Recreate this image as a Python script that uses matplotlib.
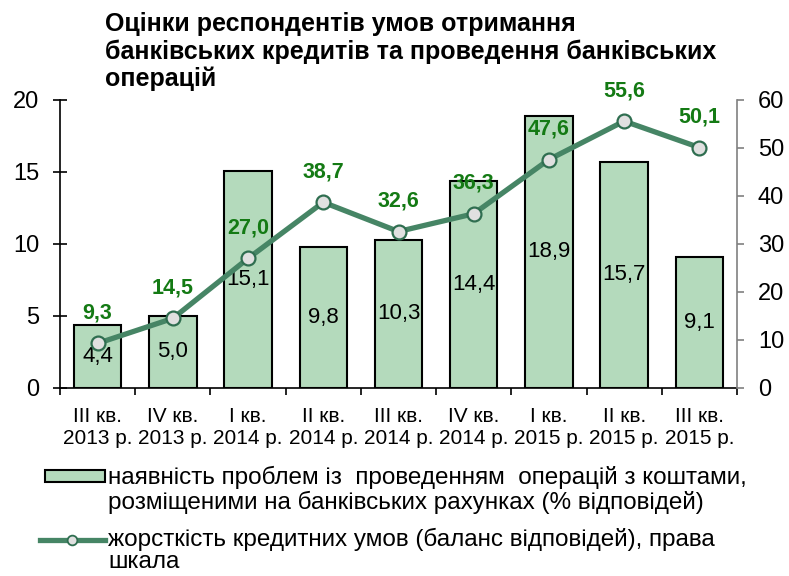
import matplotlib
matplotlib.use("Agg")
import matplotlib.pyplot as plt
from matplotlib import font_manager
from matplotlib.patches import Rectangle
from matplotlib.lines import Line2D
import numpy as np

# pick a narrow font if one is installed
names = {f.name for f in font_manager.fontManager.ttflist}
font = 'Liberation Sans Narrow' if 'Liberation Sans Narrow' in names else 'Liberation Sans'
plt.rcParams['font.family'] = [font, 'DejaVu Sans']

quarters = ['III кв.\n2013 р.', 'IV кв.\n2013 р.', 'I кв.\n2014 р.', 'II кв.\n2014 р.',
            'III кв.\n2014 р.', 'IV кв.\n2014 р.', 'I кв.\n2015 р.', 'II кв.\n2015 р.',
            'III кв.\n2015 р.']
problems = [4.4, 5.0, 15.1, 9.8, 10.3, 14.4, 18.9, 15.7, 9.1]
tightness = [9.3, 14.5, 27.0, 38.7, 32.6, 36.3, 47.6, 55.6, 50.1]

title_lines = ['Оцінки респондентів умов отримання',
               'банківських кредитів та проведення банківських',
               'операцій']
bar_label = ['наявність проблем із  проведенням  операцій з коштами,',
             'розміщеними на банківських рахунках (% відповідей)']
line_label = ['жорсткість кредитних умов (баланс відповідей), права',
              'шкала']

bar_color = '#b4dabc'
line_color = '#468565'
marker_edge = '#2f6e50'
label_green = '#147a14'

W, H = 789, 576
fig = plt.figure(figsize=(W/100, H/100), dpi=100)
ax = fig.add_axes([60/W, 1-388/H, 677/W, 288/H])
ax2 = ax.twinx()

x = np.arange(len(quarters))
ax.bar(x, problems, width=0.63, color=bar_color, edgecolor='black', linewidth=1.5, zorder=2)
for xi, v in zip(x, problems):
    ax.text(xi, v/2, f'{v:.1f}'.replace('.', ','), ha='center', va='center',
            fontsize=16, color='black', zorder=3)

ax2.plot(x, tightness, color=line_color, lw=3.8, marker='o', markersize=10,
         markerfacecolor='#e0e0e0', markeredgecolor=marker_edge, markeredgewidth=1.6, zorder=4)
for xi, v in zip(x, tightness):
    ax2.annotate(f'{v:.1f}'.replace('.', ','), (xi, v), xytext=(0, 22),
                 textcoords='offset points', ha='center', va='center',
                 fontsize=15.5, fontweight='bold', color=label_green)

ax.set_xlim(-0.5, len(quarters) - 0.5)
ax.set_ylim(0, 20)
ax2.set_ylim(0, 60)
ax.set_yticks(range(0, 21, 5))
ax2.set_yticks(range(0, 61, 10))

ax.set_xticks(x)
ax.set_xticklabels(quarters, fontsize=15, linespacing=1.15)
ax.set_xticks(np.arange(-0.5, len(quarters), 1), minor=True)
ax.tick_params(axis='x', which='major', length=0, pad=14)
ax.tick_params(axis='x', which='minor', length=5, width=1.2, direction='out', color='black')
ax.tick_params(axis='y', direction='inout', length=10, width=1.2, labelsize=17, pad=10)
ax2.tick_params(axis='y', direction='out', length=5, width=1.2, color='#808080',
                labelsize=17, pad=10)

ax.spines['top'].set_visible(False)
ax2.spines['top'].set_visible(False)
ax.spines['right'].set_visible(False)
ax.spines['left'].set_linewidth(1.2)
ax.spines['bottom'].set_linewidth(1.2)
ax2.spines['left'].set_visible(False)
ax2.spines['bottom'].set_visible(False)
ax2.spines['right'].set_color('#808080')
ax2.spines['right'].set_linewidth(1.2)

# title, one line at a time
for line, base in zip(title_lines, [31, 59, 86]):
    fig.text(105/W, 1 - base/H, line, ha='left', va='baseline', fontsize=18,
             fontweight='bold')

# legend below the chart
fig.add_artist(Rectangle((45/W, 1 - 482/H), 60/W, 12/H, transform=fig.transFigure,
                         facecolor=bar_color, edgecolor='black', linewidth=1.5))
fig.add_artist(Line2D([40/W, 105/W], [1 - 540/H, 1 - 540/H], transform=fig.transFigure,
                      color=line_color, lw=3.8))
fig.add_artist(Line2D([72/W], [1 - 540/H], transform=fig.transFigure, marker='o',
                      markersize=7, markerfacecolor='#e0e0e0', markeredgecolor=marker_edge,
                      markeredgewidth=1.3, linestyle='none'))
for line, yc in zip(bar_label + line_label, [477, 502, 539, 562]):
    fig.text(108/W, 1 - yc/H, line, ha='left', va='center', fontsize=17.5)

fig.savefig('out.png', dpi=100)
